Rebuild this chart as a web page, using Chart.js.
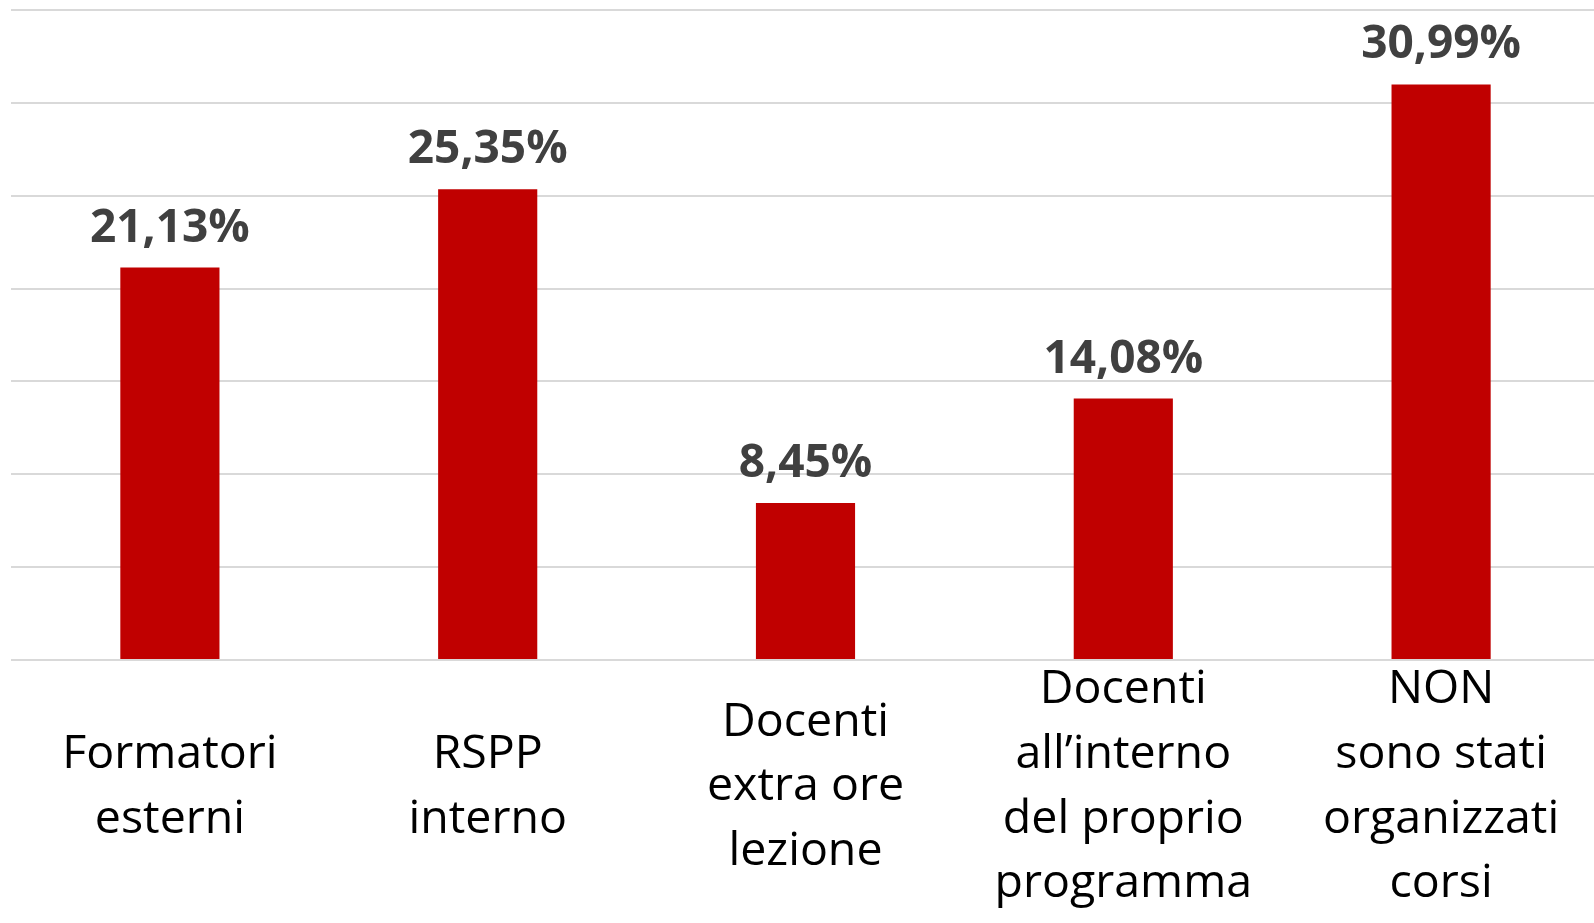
<!DOCTYPE html>
<html>
<head>
<meta charset="utf-8">
<script src="https://cdn.jsdelivr.net/npm/chart.js@4/dist/chart.umd.min.js"></script>
<style>
  html, body { margin: 0; padding: 0; background: #fff; overflow: hidden; }
  #wrap { width: 1600px; height: 923px; position: relative; }
</style>
</head>
<body>
<div id="wrap"><canvas id="chart"></canvas></div>
<script>
// Dati
const categorie = [
  ['Formatori', 'esterni'],
  ['RSPP', 'interno'],
  ['Docenti', 'extra ore', 'lezione'],
  ['Docenti', 'all’interno', 'del proprio', 'programma'],
  ['NON', 'sono stati', 'organizzati', 'corsi']
];
const percentuali = [21.13, 25.35, 8.45, 14.08, 30.99];
const yMax = 35;
const yStep = 5;

const fmt = v => v.toFixed(2).replace('.', ',') + '%';

// etichette sopra le barre
const etichette = {
  id: 'etichette',
  afterDatasetsDraw(chart) {
    const { ctx } = chart;
    const meta = chart.getDatasetMeta(0);
    ctx.save();
    ctx.font = 'bold 46px "Open Sans"';
    ctx.fillStyle = '#404040';
    ctx.textAlign = 'center';
    ctx.textBaseline = 'alphabetic';
    meta.data.forEach((bar, i) => {
      ctx.fillText(fmt(percentuali[i]), bar.x, bar.y - 26);
    });
    ctx.restore();
  }
};

new Chart(document.getElementById('chart').getContext('2d'), {
  type: 'bar',
  data: {
    labels: categorie,
    datasets: [{
      data: percentuali,
      backgroundColor: '#C00000',
      borderWidth: 0,
      categoryPercentage: 1,
      barPercentage: 0.312
    }]
  },
  options: {
    responsive: true, maintainAspectRatio: false, animation: false,
    layout: { padding: { left: 11, top: 10, right: 0, bottom: 0 } },
    plugins: { legend: { display: false }, tooltip: { enabled: false } },
    scales: {
      x: {
        grid: { display: false },
        border: { display: false },
        ticks: {
          color: '#000',
          font: { family: '"Open Sans"', size: 46.5, lineHeight: 1.39 },
          maxRotation: 0, autoSkip: false, padding: 22,
          crossAlign: 'center'
        },
        afterFit(scale) { scale.height = 263; }
      },
      y: {
        min: 0, max: yMax,
        ticks: { display: false, stepSize: yStep },
        grid: { color: '#d9d9d9', lineWidth: 2, drawTicks: false },
        border: { display: false },
        afterFit(scale) { scale.width = 0; }
      }
    }
  },
  plugins: [etichette]
});
</script>
</body>
</html>
